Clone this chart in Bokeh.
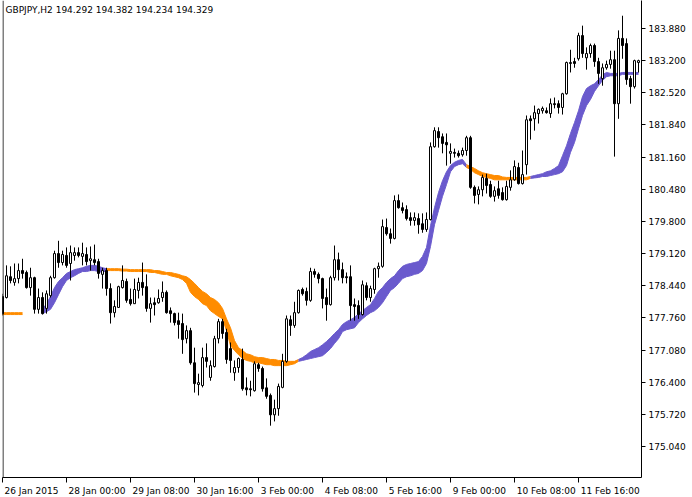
from bokeh.plotting import figure
from bokeh.models import (ColumnDataSource, FixedTicker, NumeralTickFormatter, Span, Label,
                          Range1d)
from bokeh.embed import file_html
from bokeh.resources import INLINE

symbol_title = "GBPJPY,H2  194.292 194.382 194.234 194.329"
time_ticks = [0, 16, 32, 48, 64, 80, 96, 112, 128, 144]
time_labels = ["26 Jan 2015", "28 Jan 00:00", "29 Jan 08:00", "30 Jan 16:00", "3 Feb 00:00",
               "4 Feb 08:00", "5 Feb 16:00", "9 Feb 00:00", "10 Feb 08:00", "11 Feb 16:00"]
price_ticks = [175.04, 175.72, 176.40, 177.08, 177.76, 178.44, 179.12, 179.80, 180.48,
               181.16, 181.84, 182.52, 183.20, 183.88]

open_ = [178.21, 178.19, 178.63, 178.51, 178.59, 178.76, 178.72, 178.40, 178.61, 177.94,
         178.19, 177.96, 178.23, 178.61, 179.12, 178.93, 179.08, 178.91, 179.08, 179.14,
         179.06, 179.10, 178.97, 178.99, 178.95, 178.68, 178.76, 178.38, 177.87, 177.98,
         178.40, 178.53, 178.15, 178.06, 178.34, 178.51, 178.42, 177.96, 178.08, 178.08,
         178.19, 178.30, 177.91, 177.85, 177.70, 177.64, 177.32, 177.49, 176.81, 176.35,
         176.33, 176.92, 176.50, 176.73, 177.32, 177.68, 177.45, 177.11, 176.60, 176.71,
         176.88, 176.28, 176.26, 176.22, 176.77, 176.69, 176.28, 176.12, 175.71, 175.84,
         176.29, 176.84, 177.72, 177.60, 177.87, 178.36, 178.32, 178.13, 178.74, 178.68,
         178.59, 178.19, 178.04, 178.61, 178.99, 178.78, 178.63, 178.63, 178.04, 178.02,
         177.83, 178.44, 178.19, 178.36, 178.80, 178.85, 179.67, 179.54, 179.44, 180.24,
         180.09, 180.05, 179.88, 179.82, 179.86, 179.75, 179.63, 179.84, 181.38, 181.70,
         181.59, 181.47, 181.24, 181.26, 181.24, 181.21, 181.30, 181.57, 180.52, 180.37,
         180.47, 180.71, 180.58, 180.33, 180.49, 180.41, 180.26, 180.52, 180.68, 180.94,
         180.60, 181.00, 181.97, 181.97, 182.08, 182.14, 182.14, 182.08, 182.29, 182.29,
         182.21, 182.50, 183.14, 183.18, 183.24, 183.73, 183.26, 183.35, 183.52, 183.18,
         182.82, 183.05, 183.12, 183.22, 182.29, 183.67, 183.56, 182.82, 182.65, 183.16]

high = [178.27, 178.87, 178.85, 178.91, 178.91, 179.01, 178.76, 178.82, 178.63, 178.38,
        178.30, 178.34, 178.65, 179.18, 179.39, 179.18, 179.25, 179.29, 179.25, 179.25,
        179.35, 179.25, 179.27, 179.31, 179.01, 178.82, 178.82, 178.49, 178.13, 178.44,
        178.87, 178.59, 178.38, 178.59, 178.61, 178.93, 178.68, 178.19, 178.19, 178.36,
        178.53, 178.34, 177.98, 177.87, 177.87, 177.85, 177.60, 177.55, 177.13, 176.58,
        177.13, 177.22, 176.86, 177.38, 177.74, 177.74, 177.53, 177.24, 176.86, 176.92,
        177.11, 176.50, 176.43, 176.84, 176.81, 176.73, 176.48, 176.16, 176.03, 176.37,
        177.00, 177.81, 177.81, 178.10, 178.36, 178.40, 178.40, 178.82, 178.80, 178.72,
        178.61, 178.38, 178.65, 179.29, 179.14, 178.93, 178.72, 178.87, 178.17, 178.13,
        178.55, 178.51, 178.44, 178.82, 178.93, 179.84, 179.86, 179.65, 180.35, 180.37,
        180.20, 180.14, 179.99, 179.99, 179.97, 179.97, 179.99, 181.47, 181.79, 181.79,
        181.66, 181.66, 181.45, 181.34, 181.30, 181.36, 181.61, 181.61, 180.56, 180.54,
        180.79, 180.81, 180.66, 180.54, 180.66, 180.52, 180.66, 180.88, 181.09, 181.04,
        181.30, 182.04, 182.04, 182.25, 182.19, 182.23, 182.21, 182.40, 182.42, 182.36,
        182.52, 183.18, 183.43, 183.26, 183.79, 183.94, 183.48, 183.56, 183.56, 183.26,
        183.14, 183.20, 183.41, 183.41, 183.84, 184.15, 183.67, 182.88, 183.22, 183.22]

low = [177.81, 178.17, 178.49, 178.44, 178.49, 178.59, 178.38, 178.23, 177.85, 177.85,
       177.83, 177.85, 178.19, 178.59, 178.82, 178.87, 178.82, 178.55, 178.97, 179.04,
       178.87, 178.87, 178.76, 178.87, 178.59, 178.38, 178.23, 177.64, 177.77, 177.98,
       178.38, 178.08, 178.02, 178.06, 178.17, 178.23, 177.89, 177.66, 177.81, 178.06,
       178.10, 177.85, 177.66, 177.60, 177.32, 177.00, 177.22, 176.77, 176.18, 176.12,
       176.29, 176.71, 176.43, 176.71, 177.22, 177.32, 176.79, 176.60, 176.43, 176.60,
       176.22, 176.12, 176.10, 176.20, 176.62, 176.20, 176.05, 175.48, 175.57, 175.69,
       176.27, 176.81, 177.38, 177.55, 177.85, 178.23, 178.02, 178.10, 178.61, 178.49,
       177.96, 177.70, 178.02, 178.55, 178.55, 178.49, 178.49, 177.70, 177.70, 177.74,
       177.81, 178.13, 178.10, 178.27, 178.61, 178.82, 179.50, 179.33, 179.42, 180.07,
       179.97, 179.82, 179.71, 179.71, 179.54, 179.56, 179.58, 179.82, 181.36, 181.36,
       181.24, 180.98, 181.02, 181.15, 181.15, 181.17, 181.19, 180.49, 180.18, 180.16,
       180.33, 180.39, 180.30, 180.22, 180.28, 180.24, 180.24, 180.45, 180.66, 180.58,
       180.58, 180.79, 181.53, 181.72, 181.87, 182.08, 182.08, 181.99, 182.19, 182.08,
       182.06, 182.48, 182.95, 183.05, 183.20, 183.26, 183.01, 183.26, 183.07, 182.71,
       182.67, 183.01, 183.03, 181.17, 181.97, 183.24, 182.69, 182.29, 182.61, 182.95]

close = [177.85, 178.65, 178.55, 178.59, 178.76, 178.70, 178.40, 178.61, 177.94, 178.19,
         177.85, 178.27, 178.61, 179.12, 178.93, 179.10, 178.87, 179.14, 179.14, 179.08,
         179.12, 178.95, 179.01, 178.93, 178.70, 178.76, 178.38, 177.87, 178.00, 178.42,
         178.55, 178.13, 178.06, 178.36, 178.51, 178.40, 177.96, 178.06, 178.04, 178.17,
         178.30, 177.87, 177.85, 177.66, 177.62, 177.30, 177.49, 176.81, 176.37, 176.39,
         176.92, 176.84, 176.75, 177.32, 177.68, 177.43, 176.88, 176.86, 176.71, 176.90,
         176.26, 176.24, 176.24, 176.79, 176.69, 176.26, 176.10, 175.71, 175.84, 176.31,
         176.84, 177.74, 177.60, 177.87, 178.34, 178.27, 178.13, 178.74, 178.68, 178.59,
         178.17, 178.04, 178.61, 178.99, 178.78, 178.61, 178.61, 178.02, 178.00, 177.83,
         178.46, 178.19, 178.38, 178.80, 178.85, 179.69, 179.54, 179.44, 180.24, 180.09,
         180.03, 179.86, 179.82, 179.88, 179.73, 179.63, 179.84, 181.38, 181.72, 181.57,
         181.45, 181.42, 181.28, 181.24, 181.19, 181.30, 181.57, 180.52, 180.35, 180.47,
         180.73, 180.56, 180.33, 180.45, 180.35, 180.26, 180.54, 180.68, 180.96, 180.60,
         180.79, 181.95, 181.93, 182.10, 182.17, 182.19, 182.10, 182.29, 182.27, 182.21,
         182.50, 183.16, 183.16, 183.14, 183.73, 183.35, 183.35, 183.52, 183.18, 182.93,
         183.05, 183.12, 183.22, 182.29, 183.67, 183.52, 182.80, 182.65, 183.20, 183.20]

band_upper = [177.87, 177.87, 177.87, 177.87, 177.87, 177.87, None, None, None, None,
              177.94, 178.06, 178.21, 178.40, 178.53, 178.61, 178.70, 178.74, 178.78, 178.80,
              178.82, 178.85, 178.87, 178.87, 178.85, 178.82, 178.80, 178.80, 178.80, 178.80,
              178.79, 178.79, 178.78, 178.78, 178.78, 178.78, 178.78, 178.78, 178.76, 178.76,
              178.74, 178.72, 178.72, 178.70, 178.68, 178.65, 178.63, 178.57, 178.49, 178.40,
              178.32, 178.27, 178.19, 178.15, 178.08, 177.96, 177.74, 177.55, 177.28, 177.13,
              177.07, 177.00, 176.98, 176.94, 176.92, 176.92, 176.90, 176.88, 176.88, 176.86,
              176.86, 176.84, 176.84, 176.84, 176.88, 176.92, 176.98, 177.05, 177.09, 177.13,
              177.19, 177.26, 177.34, 177.43, 177.51, 177.62, 177.68, 177.72, 177.77, 177.85,
              177.91, 177.98, 178.04, 178.17, 178.32, 178.40, 178.51, 178.59, 178.65, 178.76,
              178.85, 178.89, 178.91, 178.93, 178.95, 179.06, 179.25, 179.71, 180.09, 180.41,
              180.66, 180.85, 180.98, 181.05, 181.09, 181.11, 181.00, 180.96, 180.92, 180.87,
              180.83, 180.81, 180.79, 180.77, 180.77, 180.74, 180.73, 180.73, 180.73, 180.73,
              180.73, 180.73, 180.75, 180.77, 180.79, 180.81, 180.85, 180.87, 180.92, 180.98,
              181.19, 181.40, 181.66, 181.89, 182.14, 182.44, 182.61, 182.67, 182.71, 182.80,
              182.90, 182.95, 182.93, 182.93, 182.93, 182.95, 182.95, 182.95, 182.95, 182.95]

band_lower = [177.83, 177.83, 177.83, 177.83, 177.83, 177.83, None, None, None, None,
              177.85, 177.89, 177.94, 178.08, 178.25, 178.42, 178.55, 178.61, 178.65, 178.70,
              178.74, 178.74, 178.76, 178.76, 178.74, 178.72, 178.76, 178.76, 178.76, 178.76,
              178.75, 178.75, 178.74, 178.74, 178.74, 178.74, 178.74, 178.72, 178.72, 178.70,
              178.68, 178.68, 178.65, 178.63, 178.61, 178.57, 178.49, 178.30, 178.21, 178.15,
              178.06, 178.02, 177.91, 177.85, 177.79, 177.74, 177.49, 177.17, 177.07, 176.98,
              176.90, 176.86, 176.84, 176.81, 176.81, 176.79, 176.77, 176.77, 176.75, 176.75,
              176.75, 176.75, 176.77, 176.79, 176.84, 176.86, 176.88, 176.90, 176.92, 176.94,
              176.96, 177.03, 177.11, 177.22, 177.32, 177.47, 177.51, 177.53, 177.55, 177.66,
              177.74, 177.81, 177.87, 177.91, 177.98, 178.08, 178.21, 178.34, 178.40, 178.49,
              178.59, 178.63, 178.65, 178.68, 178.70, 178.76, 178.91, 179.27, 179.73, 180.03,
              180.33, 180.58, 180.85, 180.96, 181.00, 181.02, 180.94, 180.90, 180.83, 180.79,
              180.75, 180.73, 180.71, 180.68, 180.68, 180.68, 180.68, 180.68, 180.68, 180.68,
              180.68, 180.68, 180.71, 180.72, 180.73, 180.75, 180.75, 180.77, 180.79, 180.81,
              180.85, 180.98, 181.26, 181.47, 181.76, 182.04, 182.25, 182.38, 182.55, 182.67,
              182.78, 182.86, 182.88, 182.88, 182.88, 182.91, 182.91, 182.91, 182.91, 182.91]

band_trend = (["down"] * 6 + [None] * 4 + ["up"] * 16 + ["down"] * 48 +
              ["up"] * 42 + ["down"] * 16 + ["up"] * 28)

TREND_COLORS = {"up": "#6A5ACD", "down": "#FF8C00"}
FONT = "DejaVu Sans"
FONT_PX = 9

X_START, X_END = 0, 159.75
Y_START, Y_END = 174.384, 184.472
FRAME_W, FRAME_H = 639, 477

p = figure(frame_width=FRAME_W, frame_height=FRAME_H,
           x_range=Range1d(X_START, X_END), y_range=Range1d(Y_START, Y_END),
           output_backend="svg", toolbar_location=None, y_axis_location="right",
           min_border_left=2, min_border_top=0, min_border_right=0, min_border_bottom=0,
           background_fill_color="white", border_fill_color="white",
           outline_line_color=None)
p.xgrid.visible = False
p.ygrid.visible = False

# ---- band indicator: filled areas, one per run of equal trend ----
n = len(close)
runs = []
i = 0
while i < n:
    t = band_trend[i]
    if t is None or band_upper[i] is None:
        i += 1
        continue
    j = i
    while j + 1 < n and band_trend[j + 1] == t and band_upper[j + 1] is not None:
        j += 1
    end = j + 1 if (j + 1 < n and band_upper[j + 1] is not None) else j
    runs.append((i, end, t))
    i = j + 1

for s, e, t in runs:
    xs = list(range(s, e + 1))
    src = ColumnDataSource(dict(x=xs, y1=band_lower[s:e + 1], y2=band_upper[s:e + 1]))
    p.varea(x="x", y1="y1", y2="y2", fill_color=TREND_COLORS[t], source=src)
    p.line(x="x", y="y1", line_color=TREND_COLORS[t], line_width=1, source=src)
    p.line(x="x", y="y2", line_color=TREND_COLORS[t], line_width=1, source=src)

# ---- candles ----
idx = list(range(n))
candles = ColumnDataSource(dict(
    x=idx, high=high, low=low,
    top=[max(o, c) for o, c in zip(open_, close)],
    bottom=[min(o, c) for o, c in zip(open_, close)],
    fill=["white" if c >= o else "black" for o, c in zip(open_, close)],
))
p.segment(x0="x", y0="high", x1="x", y1="low", line_color="black", line_width=1, source=candles)
p.vbar(x="x", width=0.5, top="top", bottom="bottom", fill_color="fill",
       line_color="black", line_width=1, source=candles)

# left frame border
p.add_layout(Span(location=0.125, dimension="height", line_color="black", line_width=1))

# header text
p.add_layout(Label(x=0.75, y=184.38, text=symbol_title, text_font=FONT,
                   text_font_size=f"{FONT_PX}px", text_color="black", text_baseline="top"))

# ---- y axis (right) ----
ya = p.yaxis[0]
ya.ticker = FixedTicker(ticks=price_ticks, minor_ticks=[])
ya.formatter = NumeralTickFormatter(format="0.000")
ya.major_tick_in = 0
ya.major_tick_out = 4
ya.minor_tick_in = 0
ya.minor_tick_out = 0
ya.axis_line_color = "black"
ya.major_tick_line_color = "black"
ya.major_label_text_font = FONT
ya.major_label_text_font_size = f"{FONT_PX}px"
ya.major_label_text_color = "black"
ya.major_label_standoff = 3

# ---- x axis: labels sit right of their tick (MetaTrader style) ----
# tick marks are drawn as minor ticks at the real times; the (invisible) major
# ticks carry the labels, offset by half the label width.
CHAR_EM = {"0": 0.636, "1": 0.636, "2": 0.636, "3": 0.636, "4": 0.636, "5": 0.636,
           "6": 0.636, "7": 0.636, "8": 0.636, "9": 0.636, " ": 0.318, ":": 0.337,
           "J": 0.295, "a": 0.613, "n": 0.634, "F": 0.575, "e": 0.615, "b": 0.635}
px_per_bar = FRAME_W / (X_END - X_START)
label_pos = []
for t, lab in zip(time_ticks, time_labels):
    w = sum(CHAR_EM.get(ch, 0.6) for ch in lab) * FONT_PX
    label_pos.append(t + (w / 2 + 2) / px_per_bar)

xa = p.xaxis[0]
xa.ticker = FixedTicker(ticks=label_pos, minor_ticks=time_ticks)
xa.major_label_overrides = {pos: lab for pos, lab in zip(label_pos, time_labels)}
xa.major_tick_line_color = None
xa.major_tick_in = 0
xa.major_tick_out = 0
xa.minor_tick_in = 0
xa.minor_tick_out = 5
xa.minor_tick_line_color = "black"
xa.axis_line_color = "black"
xa.major_label_standoff = 3
xa.major_label_text_font = FONT
xa.major_label_text_font_size = f"{FONT_PX}px"
xa.major_label_text_color = "black"

open("out.html", "w").write(file_html(p, INLINE))
